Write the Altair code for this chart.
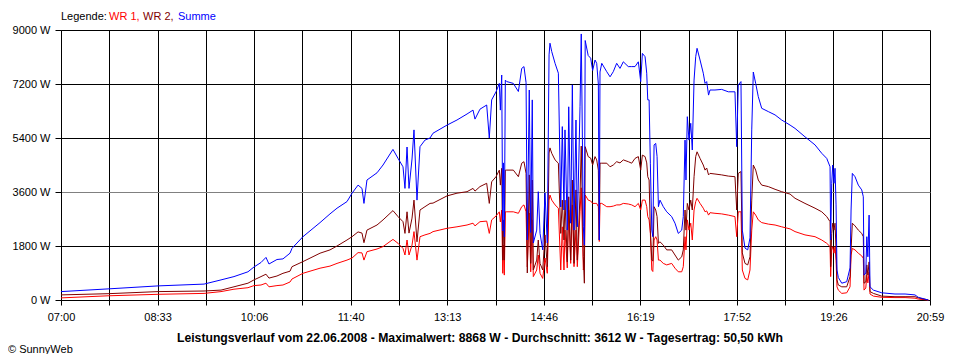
import altair as alt
import pandas as pd

# minutes after 07:00
t_min = [0.0, 45.4, 93.7, 138.1, 154.5, 167.0, 180.5, 186.3, 193.1, 197.9,
         200.8, 208.5, 214.3, 221.1, 223.0, 233.6, 250.1, 259.7, 266.5, 276.1,
         281.0, 286.8, 290.6, 292.5, 295.4, 305.1, 310.9, 320.5, 325.4, 330.2,
         332.1, 334.1, 336.0, 338.9, 340.8, 343.7, 346.6, 351.4, 356.3, 359.2,
         372.7, 382.3, 392.0, 397.8, 399.7, 404.5, 411.0, 413.5, 415.8, 420.0,
         423.2, 424.2, 425.5, 426.5, 427.1, 428.0, 429.0, 430.4, 436.7, 441.6,
         444.8, 447.0, 449.0, 450.2, 452.1, 453.5, 455.0, 456.0, 459.3, 460.8,
         462.5, 465.1, 467.3, 469.5, 471.2, 472.1, 473.8, 477.0, 480.2, 482.5,
         484.0, 485.6, 486.6, 488.8, 490.2, 492.1, 493.7, 495.3, 497.2, 498.5,
         501.1, 502.3, 504.3, 505.3, 506.1, 509.0, 511.4, 513.3, 515.6, 517.2,
         518.8, 519.7, 520.4, 522.1, 526.9, 530.1, 533.2, 536.5, 539.7, 542.9,
         547.7, 551.0, 554.2, 557.4, 559.7, 561.3, 563.9, 565.5, 566.5, 567.8,
         569.0, 570.4, 571.4, 572.6, 574.2, 575.5, 576.8, 578.3, 581.5, 584.8,
         589.6, 592.8, 596.0, 599.3, 600.8, 602.5, 603.4, 604.7, 606.3, 608.0,
         609.5, 611.2, 612.8, 614.1, 617.0, 620.1, 621.8, 623.4, 625.2, 626.6,
         631.4, 637.9, 644.3, 650.7, 652.4, 653.9, 656.5, 657.8, 660.4, 663.0,
         665.2, 666.9, 668.4, 670.7, 673.2, 676.5, 682.9, 689.4, 695.8, 703.9,
         708.7, 718.3, 728.0, 734.5, 739.3, 742.5, 743.1, 744.1, 745.1, 746.3,
         747.3, 748.3, 749.2, 750.5, 753.8, 758.6, 761.8, 762.8, 764.0, 766.6,
         769.8, 773.1, 774.6, 775.3, 777.0, 778.0, 779.0, 780.2, 781.1, 784.3,
         792.4, 805.2, 814.9, 824.5, 827.7, 837.4]

summe = [280, 370, 470, 530, 670, 780, 940, 1100, 1250, 1420,
         1200, 1350, 1370, 1560, 1720, 2110, 2580, 2870, 3060, 3280,
         3560, 3830, 3720, 3220, 4000, 4240, 4500, 5020, 4720, 4440,
         3720, 5100, 3720, 4700, 5670, 3330, 5110, 5330, 5400, 5560,
         5830, 6000, 6200, 6330, 6030, 6360, 6500, 5400, 6670, 6940,
         7220, 6330, 7500, 2300, 4570, 2110, 7330, 7280, 7220, 6950,
         7720, 7780, 7250, 2000, 7000, 2250, 6670, 1900, 2330, 3610,
         2220, 1670, 3570, 1900, 8170, 8560, 8280, 7890, 7560, 3100,
         5780, 3000, 5670, 2330, 6440, 2560, 7170, 2330, 6000, 2440,
         6440, 8868, 2440, 1830, 8650, 8150, 8060, 7650, 8000, 7890,
         7200, 2000, 7600, 7890, 7610, 7440, 7610, 7890, 7720, 7940,
         7780, 7780, 7780, 7940, 7280, 8220, 8110, 7560, 6670, 6670,
         4560, 2330, 2110, 5170, 5220, 4780, 3110, 3330, 3110, 2940,
         2780, 2560, 2220, 2330, 2780, 5330, 4000, 6110, 5330, 5890,
         5000, 7330, 8110, 8390, 8000, 7560, 7220, 7280, 6830, 7000,
         7000, 7020, 6940, 6940, 5110, 7170, 7280, 2330, 1730, 1670,
         2070, 5670, 7600, 7220, 6780, 6390, 6280, 6170, 6000, 5830,
         5720, 5440, 5170, 4890, 4720, 4440, 2000, 3890, 4500, 3890,
         4390, 3170, 1000, 750, 560, 610, 1070, 3000, 4220, 4110,
         3830, 3670, 3440, 830, 900, 2110, 1440, 2830, 440, 330,
         240, 200, 200, 170, 90, 0]

wr2 = [170, 210, 280, 300, 330, 440, 560, 670, 780, 860,
       730, 800, 890, 960, 1110, 1280, 1560, 1670, 1800, 2000,
       2110, 2270, 2230, 1910, 2330, 2500, 2670, 2980, 2780, 2610,
       2220, 2940, 2230, 2730, 3330, 1940, 3000, 3110, 3220, 3230,
       3470, 3560, 3610, 3720, 3630, 3780, 3890, 3220, 3940, 4110,
       4330, 3830, 4390, 1330, 2670, 1330, 4330, 4330, 4330, 4110,
       4560, 4610, 4220, 900, 4170, 1220, 4000, 1000, 1330, 2000,
       1220, 1000, 2170, 1110, 4900, 5070, 4890, 4670, 4560, 2220,
       3330, 2000, 3330, 1270, 3440, 1330, 4000, 1220, 3670, 1330,
       3500, 5130, 1440, 560, 5110, 4780, 4730, 4500, 4780, 4670,
       4330, 2000, 4560, 4560, 4560, 4440, 4500, 4610, 4570, 4670,
       4610, 4560, 4720, 4780, 4330, 4830, 4780, 4570, 4110, 4000,
       2330, 1330, 1300, 3110, 3000, 2780, 1890, 1940, 1830, 1670,
       1670, 1500, 1330, 1440, 1670, 3000, 2330, 3220, 3000, 3330,
       3000, 4110, 4780, 4940, 4720, 4500, 4330, 4400, 4170, 4220,
       4200, 4170, 4130, 4110, 3000, 4220, 4280, 1570, 1220, 1170,
       1440, 3330, 4500, 4330, 4000, 3830, 3780, 3690, 3610, 3530,
       3390, 3220, 3060, 2940, 2780, 2610, 1110, 2220, 2560, 2330,
       2560, 1670, 670, 500, 440, 440, 780, 1670, 2560, 2470,
       2330, 2220, 2110, 560, 600, 1170, 830, 1270, 280, 220,
       130, 110, 110, 110, 70, 0]

wr1 = [70, 140, 190, 220, 280, 360, 410, 480, 500, 560,
       440, 480, 500, 600, 700, 890, 1060, 1130, 1220, 1330,
       1400, 1580, 1570, 1330, 1610, 1700, 1780, 2020, 1890, 1720,
       1500, 2000, 1500, 1830, 2280, 1330, 2110, 2170, 2220, 2280,
       2390, 2440, 2500, 2560, 2470, 2610, 2630, 2220, 2670, 2800,
       2940, 2600, 3000, 890, 1830, 830, 2940, 2940, 2940, 2890,
       3110, 3170, 2940, 1100, 2900, 940, 2670, 780, 1000, 1500,
       890, 720, 1400, 890, 3330, 3500, 3330, 3170, 3060, 1000,
       2440, 1000, 2330, 1070, 3000, 1220, 3170, 1110, 2330, 1110,
       2940, 3740, 1000, 1270, 3500, 3330, 3300, 3220, 3220, 3220,
       3110, 1950, 3220, 3220, 3110, 3110, 3130, 3170, 3170, 3220,
       3200, 3170, 3110, 3220, 3000, 3330, 3330, 3110, 2780, 2670,
       2220, 1000, 950, 2000, 2110, 2000, 1330, 1330, 1220, 1170,
       1220, 1060, 940, 940, 1110, 2110, 1670, 2670, 2330, 2560,
       2000, 3000, 3280, 3390, 3220, 3060, 2940, 2970, 2830, 2910,
       2890, 2870, 2830, 2780, 2110, 2940, 2940, 1000, 720, 670,
       1000, 2330, 2940, 2830, 2670, 2580, 2530, 2500, 2440, 2370,
       2280, 2170, 2110, 2000, 1890, 1780, 780, 1670, 1780, 1560,
       1780, 1330, 440, 330, 220, 240, 440, 1500, 1720, 1670,
       1560, 1470, 1390, 330, 400, 830, 570, 930, 200, 130,
       90, 80, 80, 60, 30, 0]

x_labels = ["07:00", "08:33", "10:06", "11:40", "13:13",
            "14:46", "16:19", "17:52", "19:26", "20:59"]
y_ticks = [0, 1800, 3600, 5400, 7200, 9000]

legend_parts = ["Legende:", "WR 1,", "WR 2,", "Summe"]
legend_colors = ["#000000", "#FF0000", "#800000", "#0000FF"]
title_text = ("Leistungsverlauf vom 22.06.2008 - Maximalwert: 8868 W - "
              "Durchschnitt: 3612 W - Tagesertrag: 50,50 kWh")
copyright_text = "\u00a9 SunnyWeb"

FONT = "Liberation Sans"
X_MAX = 839
STEP = X_MAX / 18
x_ticks = [X_MAX * k / 18 for k in range(19)]
label_arr = "[" + ",".join("'" + s + "'" for s in x_labels) + "]"
label_expr = ("(round(datum.value / %f) %% 2 == 0) ? %s[round(datum.value / %f) / 2] : ''"
              % (STEP, label_arr, STEP))

df = pd.DataFrame({"t": t_min, "wr1": wr1, "wr2": wr2, "summe": summe})

x_enc = alt.X("t:Q",
              scale=alt.Scale(domain=[0, X_MAX], nice=False, zero=False),
              axis=alt.Axis(values=x_ticks, labelExpr=label_expr, title=None,
                            grid=True, gridColor="black", gridOpacity=1, gridWidth=1,
                            domainColor="black", tickColor="black", tickSize=5,
                            labelColor="black", labelFont=FONT, labelFontSize=11,
                            labelPadding=6, labelOverlap=False, labelFlush=False,
                            labelBound=False))

y_axis = alt.Axis(values=y_ticks, labelExpr="datum.value + ' W'", title=None,
                  grid=True,
                  gridColor={"condition": {"test": "datum.value == 3600", "value": "#808080"},
                             "value": "#000000"},
                  gridOpacity=1, gridWidth=1,
                  domainColor="black", tickColor="black", tickSize=6,
                  labelColor="black", labelFont=FONT, labelFontSize=11,
                  labelPadding=5, labelOverlap=False, labelFlush=False)
y_scale = alt.Scale(domain=[0, 9000], nice=False, zero=True)

base = alt.Chart(df)


def series(field, color):
    return base.mark_line(color=color, strokeWidth=1, interpolate="linear").encode(
        x=x_enc,
        y=alt.Y(field + ":Q", scale=y_scale, axis=y_axis),
    )


layers = [series("wr1", "#FF0000"), series("wr2", "#800000"), series("summe", "#0000FF")]

legend_x = [0, 48, 82, 117]
for txt, col, px in zip(legend_parts, legend_colors, legend_x):
    layers.append(
        alt.Chart(pd.DataFrame({"s": [txt]})).mark_text(
            align="left", baseline="middle", font=FONT, fontSize=11, color=col
        ).encode(text="s:N", x=alt.value(px), y=alt.value(-13))
    )

layers.append(
    alt.Chart(pd.DataFrame({"s": [title_text]})).mark_text(
        align="center", baseline="middle", font=FONT, fontSize=12.2,
        fontWeight="bold", color="black"
    ).encode(text="s:N", x=alt.value(419), y=alt.value(308))
)
layers.append(
    alt.Chart(pd.DataFrame({"s": [copyright_text]})).mark_text(
        align="left", baseline="middle", font=FONT, fontSize=11, color="black"
    ).encode(text="s:N", x=alt.value(-53), y=alt.value(320))
)

chart = alt.layer(*layers).properties(
    width=869, height=270,
    autosize=alt.AutoSizeParams(type="none"),
    padding={"left": 53, "top": 22, "right": 22, "bottom": 54},
    background="white",
).configure_view(stroke=None)

chart.save("out.html", embed_options={"renderer": "svg", "actions": False})
